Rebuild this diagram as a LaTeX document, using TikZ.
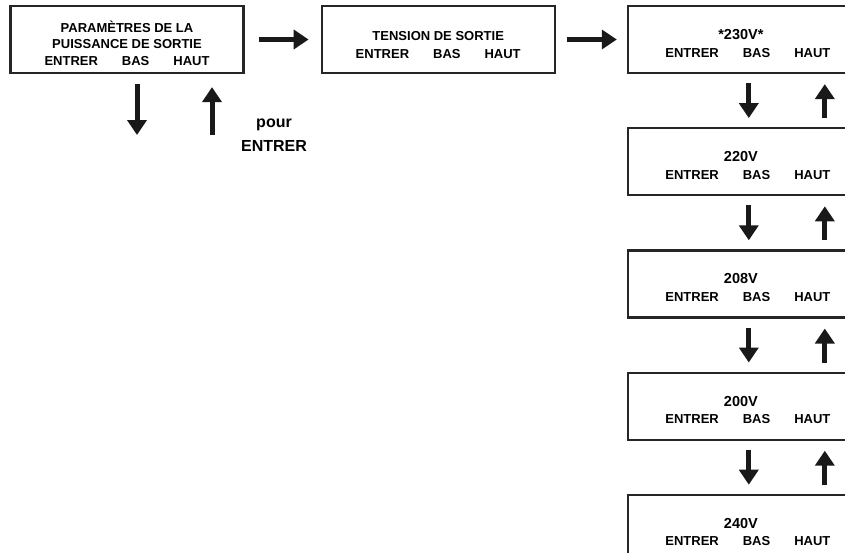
\documentclass[tikz,border=0pt]{standalone}
\usepackage{fontspec}
\setmainfont{Liberation Sans}
\usetikzlibrary{arrows.meta, positioning}
\tikzset{
    >=Latex,
    lcd_menu/.style={
        rectangle,
        draw=black!85,
        line width=2.2pt,
        minimum width=233pt,
        minimum height=67pt,
        inner sep=0pt,
        align=center,
        text height=35pt,
        text depth=0pt,
        font=\fontsize{13}{17.5}\selectfont\bfseries
    },
    lcd_step/.style={
        -{Triangle[width=19pt, length=15pt]},
        line width=5pt,
        draw=black!90
    },
    lcd_note/.style={
        align=center,
        inner sep=0pt,
        font=\fontsize{16}{24}\selectfont\bfseries
    }
}
\newcommand{\lcdkeys}{ENTRER\hspace{24pt}BAS\hspace{24pt}HAUT}
\newcommand{\lcdvalue}[1]{{\fontsize{14.5}{17.5}\selectfont #1}\hspace*{14pt}}

\begin{document}
\begin{tikzpicture}[x=1pt, y=-1pt]
\useasboundingbox (0,0) rectangle (845,552);
\clip (0,0) rectangle (845,552);

% Menu screens
\node[lcd_menu, text height=51pt, font=\fontsize{13}{16.5}\selectfont\bfseries] (pwrSet) at (127,39.5)
  {PARAMÈTRES DE LA\\PUISSANCE DE SORTIE\\\lcdkeys};
\node[lcd_menu, right=76pt of pwrSet, text height=37pt] (outVolt)
  {TENSION DE SORTIE\\\lcdkeys};
\node[lcd_menu, right=71pt of outVolt, minimum width=240pt] (v230)
  {\lcdvalue{*230V*}\\\lcdkeys};
\node[lcd_menu, below=53pt of v230, minimum width=240pt] (v220)
  {\lcdvalue{220V}\\\lcdkeys};
\node[lcd_menu, below=53pt of v220, minimum width=240pt] (v208)
  {\lcdvalue{208V}\\\lcdkeys};
\node[lcd_menu, below=53pt of v208, minimum width=240pt] (v200)
  {\lcdvalue{200V}\\\lcdkeys};
\node[lcd_menu, below=53pt of v200, minimum width=240pt] (v240)
  {\lcdvalue{240V}\\\lcdkeys};

% Free ends under the first screen
\coordinate (pwrDown) at (137,135);
\coordinate (pwrUp) at (212,135);
\node[lcd_note, anchor=south] (pourNote) at (274,152) {pour\\ENTRER};

% Edges
\draw[lcd_step, shorten <=14pt, shorten >=12pt] (pwrSet.east) -- (outVolt.west);
\draw[lcd_step, shorten <=11pt, shorten >=10pt] (outVolt.east) -- (v230.west);
\draw[lcd_step, shorten <=10pt] (pwrSet.south -| pwrDown) -- (pwrDown);
\draw[lcd_step, shorten >=13pt] (pwrUp) -- (pwrSet.south -| pwrUp);

\draw[lcd_step, shorten <=9pt, shorten >=9pt] ([xshift=122pt]v230.south west) -- ([xshift=122pt]v220.north west);
\draw[lcd_step, shorten <=9pt, shorten >=10pt] ([xshift=198pt]v220.north west) -- ([xshift=198pt]v230.south west);
\draw[lcd_step, shorten <=9pt, shorten >=9pt] ([xshift=122pt]v220.south west) -- ([xshift=122pt]v208.north west);
\draw[lcd_step, shorten <=9pt, shorten >=10pt] ([xshift=198pt]v208.north west) -- ([xshift=198pt]v220.south west);
\draw[lcd_step, shorten <=9pt, shorten >=9pt] ([xshift=122pt]v208.south west) -- ([xshift=122pt]v200.north west);
\draw[lcd_step, shorten <=9pt, shorten >=10pt] ([xshift=198pt]v200.north west) -- ([xshift=198pt]v208.south west);
\draw[lcd_step, shorten <=9pt, shorten >=9pt] ([xshift=122pt]v200.south west) -- ([xshift=122pt]v240.north west);
\draw[lcd_step, shorten <=9pt, shorten >=10pt] ([xshift=198pt]v240.north west) -- ([xshift=198pt]v200.south west);

\end{tikzpicture}
\end{document}
